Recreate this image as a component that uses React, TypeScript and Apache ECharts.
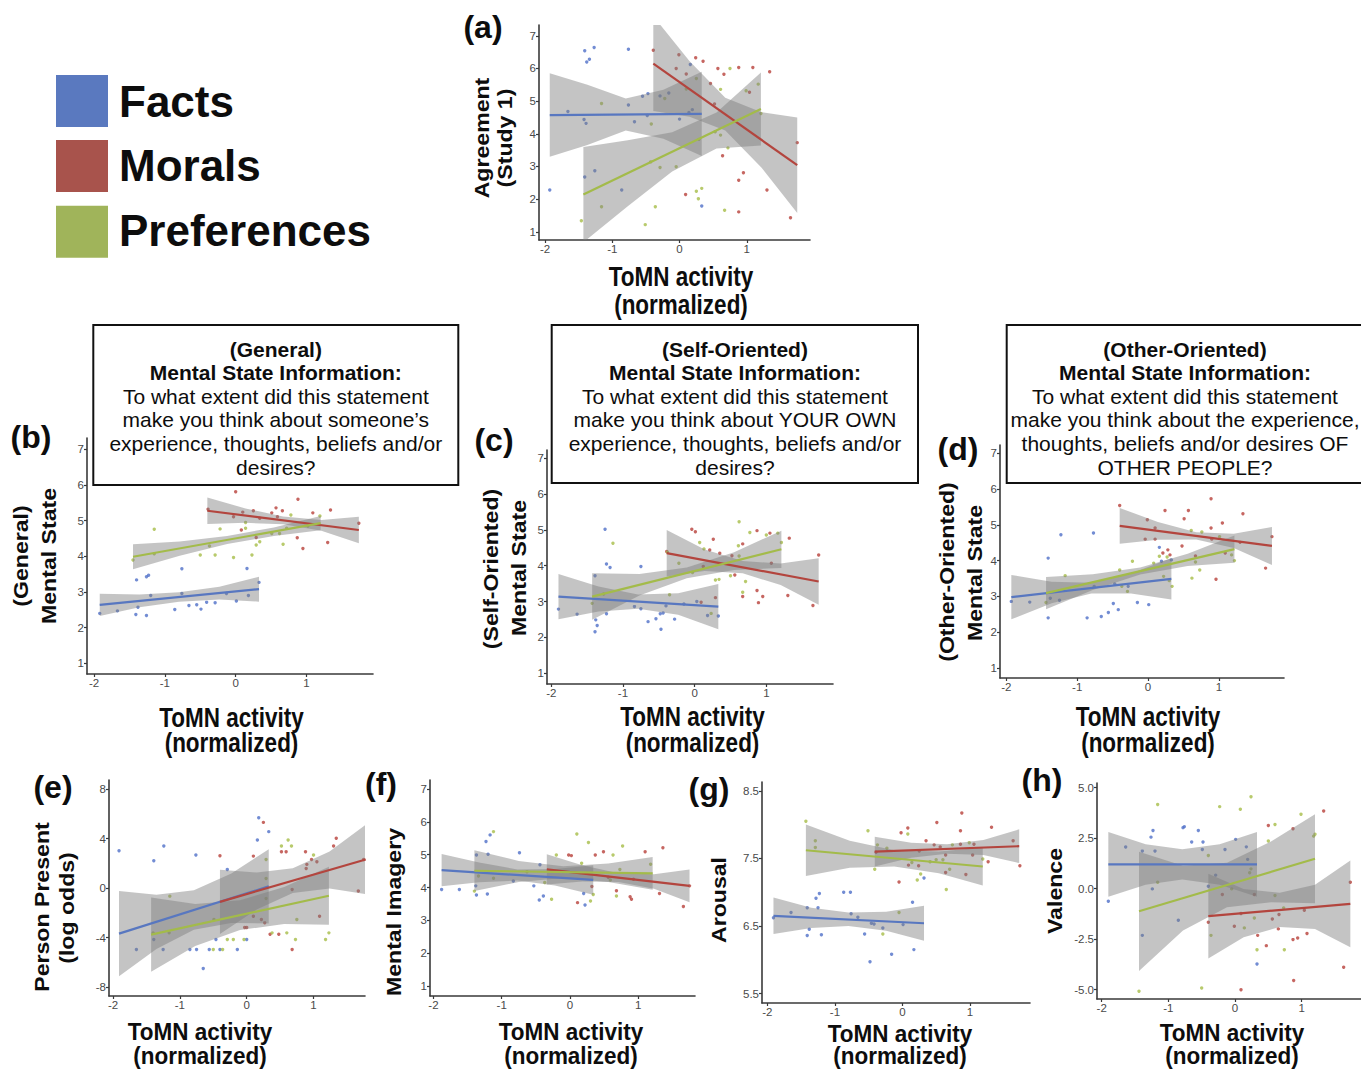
import React, { useEffect, useRef } from "react";
import * as echarts from "echarts";

// ---------- data: points [x, y] ----------
const aFacts = [[-1.41,6.54],[-1.27,6.64],[-1.38,6.2],[-1.34,6.28],[-0.76,6.59],[-1.66,4.68],[-1.42,4.44],[-1.39,4.32],[-0.76,4.88],[-0.55,5.15],[-0.47,5.23],[-0.29,5.16],[-0.16,5.25],[-0.67,4.37],[-0.48,4.56],[0.0,4.45],[0.16,6.12],[0.14,4.65],[0.19,4.74],[-1.41,2.68],[-1.26,2.87],[-1.93,2.28],[-0.86,2.28],[0.33,1.79]];
const aMorals = [[-0.39,6.56],[-0.01,6.42],[0.24,6.33],[0.35,6.22],[-0.05,6.0],[0.10,5.83],[0.57,6.0],[0.66,5.82],[0.88,6.03],[1.09,6.03],[1.34,5.9],[0.46,5.54],[1.04,5.27],[0.52,4.91],[0.64,3.33],[0.95,2.81],[0.88,2.58],[0.09,2.14],[0.88,1.61],[1.30,2.28],[1.65,1.43],[1.75,3.73]];
const aPrefs = [[-1.16,4.93],[-1.46,1.34],[-1.16,1.77],[-0.51,1.22],[-0.36,1.77],[-0.42,4.30],[-0.43,3.14],[-0.29,2.97],[-0.05,2.99],[-0.22,5.08],[0.10,5.37],[0.25,5.69],[0.29,3.83],[0.25,2.24],[0.33,2.33],[0.28,2.01],[0.61,5.36],[0.75,6.0],[0.61,3.96],[0.53,4.06],[0.72,3.57],[0.67,1.66],[0.99,5.32],[1.17,5.52],[1.21,4.62]];

const bFacts = [[-1.92,2.40],[-1.67,2.47],[-1.40,3.34],[-1.26,3.43],[-1.23,3.47],[-1.41,2.37],[-1.38,2.57],[-1.26,2.34],[-1.20,2.90],[-0.76,3.65],[-0.76,2.96],[-0.86,2.51],[-0.66,2.62],[-0.55,2.64],[-0.49,2.52],[-0.41,2.71],[-0.29,2.70],[-0.13,2.96],[0.01,2.75],[0.16,3.66],[0.18,2.90],[0.33,3.27]];
const bMorals = [[0.0,5.81],[0.88,5.6],[0.57,5.36],[-0.39,5.32],[-0.03,5.11],[0.10,5.24],[0.25,5.28],[0.51,5.22],[0.66,5.28],[1.09,5.22],[1.34,5.30],[1.74,4.93],[0.08,4.74],[0.29,4.53],[0.87,4.52],[0.95,4.22],[1.30,4.39],[0.34,5.07],[0.59,5.11]];
const bPrefs = [[-1.45,3.90],[-1.15,4.76],[-1.15,4.07],[-0.50,4.04],[-0.29,4.04],[-0.22,4.77],[-0.37,4.29],[-0.03,3.97],[0.23,4.04],[0.14,4.95],[0.29,4.32],[0.34,4.41],[0.51,4.64],[0.62,4.64],[0.67,4.34],[0.72,4.79],[0.78,5.16],[1.02,4.85],[1.19,5.13],[0.14,4.79]];

const cFacts = [[-1.90,2.79],[-1.64,2.65],[-1.39,3.72],[-1.38,2.49],[-1.36,2.33],[-1.39,2.16],[-1.25,5.02],[-1.23,4.05],[-1.18,3.95],[-1.23,2.66],[-0.75,3.98],[-0.84,2.86],[-0.75,2.80],[-0.65,2.44],[-0.54,2.52],[-0.48,2.66],[-0.47,2.23],[-0.44,2.68],[-0.40,2.88],[-0.28,2.51],[-0.15,2.93],[0.03,3.00],[0.18,2.61],[0.33,2.60]];
const cMorals = [[-0.04,5.02],[0.01,4.95],[0.26,4.74],[-0.39,4.40],[0.21,4.44],[0.35,4.35],[0.52,4.28],[0.56,3.74],[0.67,4.61],[0.87,4.98],[1.05,4.91],[1.32,4.77],[1.73,4.30],[1.07,4.07],[0.67,3.14],[0.87,3.31],[0.89,2.97],[0.95,3.14],[1.30,3.17],[1.65,2.89],[0.09,2.98],[0.29,3.11],[0.12,3.98]];
const cPrefs = [[-1.43,2.95],[-1.14,4.63],[-1.27,3.21],[-0.35,3.19],[-0.22,4.07],[-0.03,3.81],[0.07,4.65],[0.13,4.47],[0.23,2.67],[0.29,3.60],[0.34,3.62],[0.50,3.72],[0.61,4.56],[0.62,4.27],[0.67,3.26],[0.62,5.23],[0.77,4.93],[0.71,3.56],[1.0,4.86],[1.16,4.91],[1.21,4.65],[-0.38,4.38]];

const dFacts = [[-1.93,2.86],[-1.67,2.84],[-1.41,4.07],[-1.41,2.40],[-1.23,4.72],[-1.25,2.89],[-1.38,2.95],[-0.77,4.77],[-0.76,3.28],[-0.86,2.40],[-0.66,2.44],[-0.56,2.55],[-0.49,2.80],[-0.42,2.63],[-0.47,3.35],[-0.28,3.28],[-0.15,2.83],[0.01,2.77],[0.16,4.37],[0.19,3.98],[0.33,4.02]];
const dMorals = [[-0.40,5.54],[-0.01,5.14],[0.10,4.91],[0.24,5.40],[0.51,5.17],[0.57,5.40],[0.89,5.73],[0.89,4.91],[1.05,5.05],[1.34,5.31],[-0.04,4.60],[0.10,4.60],[0.28,4.30],[0.21,4.21],[0.31,4.16],[0.48,4.41],[0.67,4.13],[0.90,4.60],[1.09,4.21],[0.96,3.48],[1.66,3.79],[1.75,4.67],[1.30,4.51]];
const dPrefs = [[-1.44,2.83],[-1.17,3.58],[-0.37,3.28],[-0.29,3.14],[-0.22,3.98],[-0.40,3.74],[0.08,3.93],[0.16,4.12],[0.22,3.56],[0.27,4.10],[0.30,3.44],[0.34,3.28],[0.61,4.84],[0.62,3.51],[0.67,3.96],[0.73,3.74],[0.76,4.80],[1.01,4.67],[1.18,4.16],[1.22,4.00]];

const eFacts = [[-1.91,3.03],[-1.65,-4.97],[-1.39,2.22],[-1.39,-4.16],[-1.24,3.41],[-1.25,-4.97],[-0.76,2.68],[-0.75,-4.97],[-0.85,-4.97],[-0.65,-6.51],[-0.56,-4.97],[-0.46,-4.16],[-0.40,-4.97],[-0.29,1.51],[-0.14,-4.97],[0.0,-4.16],[0.18,5.70],[0.16,3.89],[0.33,4.57]];
const eMorals = [[0.25,5.32],[-0.40,2.62],[0.10,2.59],[0.52,2.95],[0.59,2.95],[0.88,2.95],[0.90,1.92],[0.97,2.32],[1.05,2.14],[0.89,1.59],[1.34,4.03],[1.30,3.41],[1.75,2.32],[1.67,-0.24],[0.68,-0.11],[0.10,-2.27],[-0.03,-3.19],[0.0,-3.19],[0.22,-2.54],[0.27,-2.81],[0.35,-3.73],[0.48,-3.73],[0.68,-4.97],[1.09,-2.27]];
const ePrefs = [[-1.15,-0.65],[-1.40,-3.62],[-1.16,-3.62],[-0.50,-4.97],[-0.36,-4.97],[-0.29,-4.16],[-0.20,-4.16],[-0.04,-4.16],[-0.49,-2.54],[0.29,2.32],[0.29,-0.84],[0.29,0.78],[0.38,-3.62],[0.52,3.41],[0.62,3.89],[0.67,3.41],[0.60,-3.62],[0.73,-4.16],[0.75,-2.54],[1.0,2.68],[1.18,-4.16],[1.23,-3.62]];

const fFacts = [[-1.88,3.94],[-1.62,3.94],[-1.37,4.99],[-1.38,4.05],[-1.37,3.77],[-1.23,5.40],[-1.17,5.60],[-1.21,3.80],[-1.20,5.01],[-0.83,4.20],[-0.74,5.06],[-0.53,4.05],[-0.45,3.62],[-0.39,3.74],[-0.44,4.69],[0.20,3.82],[0.22,3.47]];
const fMorals = [[-0.02,4.99],[0.02,4.97],[0.11,3.54],[0.37,4.99],[0.49,5.09],[0.68,3.90],[0.88,3.72],[0.90,3.64],[1.10,5.09],[1.36,5.21],[1.31,3.82],[1.66,3.42],[1.75,4.05],[0.56,4.31],[0.93,4.25],[0.32,4.03]];
const fPrefs = [[-1.40,3.89],[-1.12,5.70],[-1.12,4.28],[-1.34,4.35],[-0.63,4.48],[-0.20,4.99],[-0.27,3.64],[-0.37,4.15],[0.10,5.63],[0.17,4.74],[0.27,5.37],[0.30,3.59],[0.34,3.79],[0.63,4.99],[0.68,3.74],[0.73,4.55],[0.77,5.26],[0.59,4.23],[1.18,4.71]];

const gFacts = [[-1.91,6.62],[-1.65,6.70],[-1.41,6.77],[-1.41,6.36],[-1.38,6.45],[-1.28,6.91],[-1.23,6.98],[-1.25,6.77],[-1.20,6.37],[-0.87,7.0],[-0.77,7.0],[-0.76,6.68],[-0.66,6.63],[-0.56,6.38],[-0.48,5.97],[-0.46,6.54],[-0.42,6.53],[-0.29,6.47],[-0.16,6.08],[0.01,6.52],[0.15,6.85],[0.17,6.15],[0.32,7.21]];
const gMorals = [[-0.05,7.15],[-0.02,7.88],[0.08,7.95],[0.09,7.40],[0.24,7.39],[0.35,7.76],[0.51,8.03],[0.47,7.70],[0.56,7.67],[0.64,7.55],[0.64,7.29],[0.86,7.91],[0.88,8.17],[0.86,7.71],[0.94,7.26],[1.06,7.71],[1.04,7.55],[1.27,7.45],[1.32,7.96],[1.64,7.76],[1.74,7.39],[-0.39,7.59],[0.25,7.61]];
const gPrefs = [[-1.43,8.05],[-1.29,7.76],[-1.29,7.66],[-0.51,7.91],[-0.41,7.34],[-0.37,7.70],[-0.23,7.65],[0.08,7.86],[0.14,7.44],[0.22,7.18],[0.27,7.27],[0.41,7.45],[0.50,7.48],[0.60,7.48],[0.65,7.04],[0.70,7.34],[0.74,7.70],[0.99,7.73],[1.19,7.49],[-0.05,6.70],[-0.29,6.38]];

const hFacts = [[-1.90,-0.62],[-1.64,2.06],[-1.39,1.86],[-1.39,-2.31],[-1.26,2.55],[-1.23,2.88],[-1.24,-0.01],[-1.20,1.86],[-0.78,3.02],[-0.76,3.07],[-0.85,-1.56],[-0.65,2.31],[-0.55,2.88],[-0.49,1.94],[-0.48,2.31],[-0.40,0.12],[-0.29,0.67],[-0.15,1.94],[0.01,2.44],[0.17,2.07],[0.19,1.45],[0.33,-3.73]];
const hMorals = [[-0.19,-0.29],[-0.40,-1.66],[-0.01,-1.86],[0.09,-1.23],[0.09,-5.0],[0.29,-0.29],[0.34,-2.31],[0.47,-2.82],[0.50,3.13],[0.56,-1.50],[0.65,-1.99],[0.66,-1.28],[0.87,2.97],[0.87,-2.52],[0.88,-4.54],[0.94,-2.44],[1.04,-1.07],[1.08,-2.22],[1.33,3.84],[1.63,-3.89],[1.73,0.32]];
const hPrefs = [[-1.44,-5.08],[-1.16,4.17],[-1.16,0.32],[-0.50,-4.92],[-0.40,1.64],[-0.36,-2.31],[-0.23,4.06],[0.08,3.93],[-0.05,-0.01],[0.14,-1.94],[0.24,4.55],[0.22,0.79],[0.24,0.98],[0.29,-1.45],[0.33,-3.02],[0.50,2.36],[0.60,3.18],[0.60,-0.34],[0.74,-3.02],[0.73,-0.95],[0.99,3.68],[1.18,2.60],[1.20,2.69]];

// ---------- fitted lines (end points) ----------
const aFits = [[[-1.93,4.57],[0.33,4.61]], [[-0.39,6.15],[1.75,3.04]], [[-1.43,2.14],[1.21,4.76]]];
const bFits = [[[-1.92,2.64],[0.33,3.08]], [[-0.40,5.28],[1.74,4.74]], [[-1.45,3.99],[1.20,4.93]]];
const cFits = [[[-1.90,3.14],[0.33,2.86]], [[-0.39,4.35],[1.73,3.56]], [[-1.43,3.14],[1.21,4.46]]];
const dFits = [[[-1.93,2.98],[0.33,3.49]], [[-0.40,4.97],[1.75,4.41]], [[-1.44,3.09],[1.22,4.32]]];
const eFits = [[[-1.91,-3.68],[0.33,0.14]], [[-0.40,-1.11],[1.78,2.32]], [[-1.43,-3.76],[1.23,-0.62]]];
const fFits = [[[-1.88,4.53],[0.34,4.23]], [[-0.34,4.55],[1.75,4.05]], [[-1.40,4.51],[1.21,4.43]]];
const gFits = [[[-1.91,6.65],[0.32,6.54]], [[-0.41,7.60],[1.73,7.68]], [[-1.43,7.62],[1.19,7.38]]];
const hFits = [[[-1.90,1.20],[0.33,1.20]], [[-0.40,-1.36],[1.73,-0.75]], [[-1.44,-1.12],[1.20,1.48]]];

// ---------- confidence bands: [x, lower, upper] ----------
const aBands = [
  [[-1.93,3.3,5.85],[-1.37,3.66,5.5],[-0.8,4.1,5.08],[-0.24,3.85,5.35],[0.33,3.32,5.9]],
  [[-0.39,4.7,7.6],[0.15,4.52,6.22],[0.68,4.1,5.1],[1.22,2.96,4.66],[1.75,1.58,4.5]],
  [[-1.43,0.68,3.6],[-0.77,1.78,3.8],[-0.11,2.85,4.05],[0.55,3.55,4.65],[1.21,3.64,5.88]],
];
const bBands = [
  [[-1.92,2.33,2.95],[-1.36,2.57,2.93],[-0.8,2.73,2.99],[-0.23,2.79,3.15],[0.33,2.73,3.43]],
  [[-0.40,4.91,5.65],[0.14,4.94,5.34],[0.67,4.9,5.12],[1.21,4.72,5.02],[1.74,4.37,5.11]],
  [[-1.45,3.64,4.34],[-0.79,4.02,4.42],[-0.12,4.35,4.57],[0.54,4.57,4.81],[1.20,4.73,5.13]],
];
const cBands = [
  [[-1.9,2.51,3.77],[-1.34,2.72,3.42],[-0.79,2.8,3.2],[-0.23,2.63,3.23],[0.33,2.23,3.49]],
  [[-0.39,3.7,5.0],[0.14,3.85,4.45],[0.67,3.79,4.13],[1.2,3.46,4.06],[1.73,2.91,4.21]],
  [[-1.43,2.49,3.79],[-0.77,3.17,3.77],[-0.11,3.65,3.95],[0.55,3.88,4.38],[1.21,3.94,4.98]],
];
const dBands = [
  [[-1.93,2.36,3.6],[-1.36,2.81,3.41],[-0.8,3.08,3.38],[-0.24,3.08,3.64],[0.33,2.91,4.07]],
  [[-0.4,4.47,5.47],[0.14,4.58,5.08],[0.68,4.59,4.79],[1.21,4.35,4.75],[1.75,3.88,4.94]],
  [[-1.44,2.64,3.54],[-0.78,3.18,3.62],[-0.11,3.61,3.81],[0.56,3.85,4.19],[1.22,3.94,4.7]],
];
const eBands = [
  [[-1.91,-7.13,-0.23],[-1.35,-4.93,-0.53],[-0.79,-3.37,-0.17],[-0.23,-2.82,1.18],[0.33,-2.86,3.14]],
  [[-0.4,-3.71,1.49],[0.15,-1.74,1.26],[0.69,-0.4,1.6],[1.24,-0.04,2.96],[1.78,-0.48,5.12]],
  [[-1.43,-6.76,-0.76],[-0.77,-4.68,-1.28],[-0.1,-3.39,-0.99],[0.56,-2.91,0.09],[1.23,-2.97,1.73]],
];
const fBands = [
  [[-1.88,4.04,5.02],[-1.33,4.16,4.76],[-0.77,4.21,4.55],[-0.22,4.06,4.56],[0.34,3.78,4.68]],
  [[-0.34,4.09,5.01],[0.18,4.18,4.68],[0.71,4.17,4.43],[1.23,3.96,4.4],[1.75,3.55,4.55]],
  [[-1.4,3.89,5.13],[-0.75,4.17,4.81],[-0.1,4.29,4.65],[0.56,4.17,4.73],[1.21,3.93,4.93]],
];
const gBands = [
  [[-1.91,6.38,6.92],[-1.35,6.47,6.77],[-0.8,6.5,6.7],[-0.24,6.43,6.71],[0.32,6.28,6.8]],
  [[-0.41,7.38,7.82],[0.13,7.51,7.73],[0.66,7.57,7.71],[1.2,7.55,7.77],[1.73,7.43,7.93]],
  [[-1.43,7.24,8.0],[-0.78,7.36,7.76],[-0.12,7.38,7.62],[0.54,7.28,7.6],[1.19,7.1,7.66]],
];
const hBands = [
  [[-1.9,-0.4,2.8],[-1.34,0.2,2.2],[-0.79,0.45,1.95],[-0.23,0.2,2.2],[0.33,-0.4,2.8]],
  [[-0.4,-3.46,0.74],[0.13,-2.41,-0.01],[0.67,-1.9,-0.2],[1.2,-2.0,0.2],[1.73,-2.9,1.4]],
  [[-1.44,-4.07,1.83],[-0.78,-2.07,1.13],[-0.12,-0.92,1.28],[0.54,-0.67,2.33],[1.2,-0.72,3.68]],
];

// ---------- tick labels ----------
const xTicks = [-2, -1, 0, 1];
const likertTicks = [1, 2, 3, 4, 5, 6, 7];
const logOddsTicks = [-8, -4, 0, 4, 8];
const arousalTicks = [5.5, 6.5, 7.5, 8.5];
const valenceTicks = [-5, -2.5, 0, 2.5, 5];

const groupNames = ["Facts", "Morals", "Preferences"];
const boxB = ["(General)", "Mental State Information:", "To what extent did this statement", "make you think about someone’s", "experience, thoughts, beliefs and/or", "desires?"];
const boxC = ["(Self-Oriented)", "Mental State Information:", "To what extent did this statement", "make you think about YOUR OWN", "experience, thoughts, beliefs and/or", "desires?"];
const boxD = ["(Other-Oriented)", "Mental State Information:", "To what extent did this statement", "make you think about the experience,", "thoughts, beliefs and/or desires OF", "OTHER PEOPLE?"];

// ---------- styles ----------
const FONT = '"Liberation Sans", Arial, Helvetica, sans-serif';
const LEGEND_COLORS = ["#5a79bf", "#a8534c", "#a0b45a"];
const POINT_COLORS = ["#4f6fc8", "#b8403a", "#a6bd47"];
const LINE_COLORS = ["#5877c0", "#b3453e", "#a3bb4a"];
const BAND_FILL = "rgba(125,125,125,0.45)";
const AXIS_COLOR = "#3a3a3a";
const LABEL_COLOR = "#4a4a4a";

const panels = [
  { pts: [aFacts, aMorals, aPrefs], fits: aFits, bands: aBands, yTicks: likertTicks, box: { left: 539, top: 25, width: 271, height: 215 }, x: [-2.09, 1.94], y: [0.75, 7.33] },
  { pts: [bFacts, bMorals, bPrefs], fits: bFits, bands: bBands, yTicks: likertTicks, box: { left: 87, top: 438, width: 286, height: 236 }, x: [-2.1, 1.94], y: [0.7, 7.32] },
  { pts: [cFacts, cMorals, cPrefs], fits: cFits, bands: cBands, yTicks: likertTicks, box: { left: 547, top: 450, width: 286, height: 234 }, x: [-2.06, 1.93], y: [0.7, 7.23] },
  { pts: [dFacts, dMorals, dPrefs], fits: dFits, bands: dBands, yTicks: likertTicks, box: { left: 1000, top: 445, width: 284, height: 233 }, x: [-2.09, 1.92], y: [0.72, 7.23] },
  { pts: [eFacts, eMorals, ePrefs], fits: eFits, bands: eBands, yTicks: logOddsTicks, box: { left: 109, top: 780, width: 256, height: 216 }, x: [-2.06, 1.77], y: [-8.73, 8.75] },
  { pts: [fFacts, fMorals, fPrefs], fits: fFits, bands: fBands, yTicks: likertTicks, box: { left: 430, top: 780, width: 265, height: 216 }, x: [-2.05, 1.83], y: [0.7, 7.27] },
  { pts: [gFacts, gMorals, gPrefs], fits: gFits, bands: gBands, yTicks: arousalTicks, box: { left: 762, top: 782, width: 268, height: 221 }, x: [-2.08, 1.89], y: [5.36, 8.63] },
  { pts: [hFacts, hMorals, hPrefs], fits: hFits, bands: hBands, yTicks: valenceTicks, box: { left: 1097, top: 783, width: 264, height: 216 }, x: [-2.07, 1.89], y: [-5.46, 5.23], fixed: 1 },
];

function txt(x: number, y: number, s: string, size: number, bold: boolean, extra: any = {}, styleExtra: any = {}) {
  return {
    type: "text", x, y, z: 100, silent: true, ...extra,
    style: {
      text: s, fontSize: size, fontWeight: bold ? "bold" : "normal", fontFamily: FONT, fill: "#0d0d0d",
      align: "center", verticalAlign: "middle", textAlign: "center", textVerticalAlign: "middle", ...styleExtra,
    },
  };
}

function buildOption() {
  const grid: any[] = [];
  const xAxis: any[] = [];
  const yAxis: any[] = [];
  const series: any[] = [];

  panels.forEach((p, i) => {
    grid.push({ ...p.box, containLabel: false });
    xAxis.push({
      gridIndex: i, type: "value", min: p.x[0], max: p.x[1],
      axisLine: { show: true, onZero: false, lineStyle: { color: AXIS_COLOR, width: 1.6 } },
      axisTick: { show: true, length: 3, customValues: xTicks, lineStyle: { color: AXIS_COLOR, width: 1.2 } },
      axisLabel: { customValues: xTicks, color: LABEL_COLOR, fontSize: 11.5, margin: 3, fontFamily: FONT },
      splitLine: { show: false },
    });
    yAxis.push({
      gridIndex: i, type: "value", min: p.y[0], max: p.y[1],
      axisLine: { show: true, onZero: false, lineStyle: { color: AXIS_COLOR, width: 1.6 } },
      axisTick: { show: true, length: 3, customValues: p.yTicks, lineStyle: { color: AXIS_COLOR, width: 1.2 } },
      axisLabel: {
        customValues: p.yTicks, color: LABEL_COLOR, fontSize: 11.5, margin: 3, fontFamily: FONT,
        formatter: (v: number) => (p.fixed ? v.toFixed(1) : String(v)),
      },
      splitLine: { show: false },
    });
    p.pts.forEach((pts, g) => {
      series.push({
        type: "scatter", name: groupNames[g], xAxisIndex: i, yAxisIndex: i, data: pts,
        symbol: "circle", symbolSize: 3.4, itemStyle: { color: POINT_COLORS[g] }, z: 2, silent: true,
      });
    });
    p.bands.forEach((band) => {
      series.push({
        type: "custom", xAxisIndex: i, yAxisIndex: i, clip: true, z: 3, silent: true,
        data: [[band[0][0], band[0][1]]],
        renderItem: (_params: any, api: any) => {
          const upper = band.map((r) => api.coord([r[0], r[2]]));
          const lower = band.slice().reverse().map((r) => api.coord([r[0], r[1]]));
          return { type: "polygon", shape: { points: upper.concat(lower) }, style: { fill: BAND_FILL, stroke: "none" } };
        },
      });
    });
    p.fits.forEach((fit, g) => {
      series.push({
        type: "line", xAxisIndex: i, yAxisIndex: i, data: fit, showSymbol: false, symbol: "none",
        lineStyle: { color: LINE_COLORS[g], width: 2.2 }, z: 4, silent: true,
      });
    });
  });

  const graphics: any[] = [];
  // legend
  const legendY = [75, 140, 205.7];
  const legendTextY = [101, 165.5, 230];
  groupNames.forEach((name, g) => {
    graphics.push({ type: "rect", x: 56, y: legendY[g], z: 100, shape: { width: 52, height: 52 }, style: { fill: LEGEND_COLORS[g] } });
    graphics.push(txt(119, legendTextY[g], name, 44, true, {}, { align: "left", textAlign: "left" }));
  });
  // boxes
  const boxes = [
    { lines: boxB, x: 93.3, w: 365, cx: 275.8, h: 160 },
    { lines: boxC, x: 551.7, w: 366.3, cx: 735, h: 158 },
    { lines: boxD, x: 1006.7, w: 370, cx: 1185, h: 158 },
  ];
  const lineY = [349, 372.6, 396.2, 419.8, 443.4, 467];
  boxes.forEach((b) => {
    graphics.push({ type: "rect", x: b.x, y: 325, z: 99, shape: { width: b.w, height: b.h }, style: { fill: "#fff", stroke: "#111", lineWidth: 2 } });
    b.lines.forEach((l, k) => graphics.push(txt(b.cx, lineY[k], l, 21, k < 2)));
  });
  // panel letters
  const letters: [string, number, number][] = [
    ["(a)", 483, 27], ["(b)", 31, 437], ["(c)", 494, 440], ["(d)", 958, 449],
    ["(e)", 53, 787], ["(f)", 381, 784], ["(g)", 709, 789], ["(h)", 1042, 780],
  ];
  letters.forEach(([s, x, y]) => graphics.push(txt(x, y, s, 32, true)));
  // x titles
  const xTitles: [number, number, number, number][] = [
    [681, 276.5, 305, 1.2], [231.5, 718, 743, 1.2], [692.5, 716.7, 743, 1.2], [1148, 716.7, 743, 1.2],
    [200, 1032, 1055.5, 1.05], [571, 1031.5, 1055.5, 1.05], [900, 1034, 1056, 1.05], [1232, 1033, 1056, 1.05],
  ];
  xTitles.forEach(([x, y1, y2, sc]) => {
    graphics.push(txt(x, y1, "ToMN activity", 22.5, true, { scaleY: sc }));
    graphics.push(txt(x, y2, "(normalized)", 22.5, true, { scaleY: sc }));
  });
  // y titles
  const yTitles: [string, number, number][] = [
    ["Agreement", 482, 138], ["(Study 1)", 505, 138],
    ["(General)", 21, 556], ["Mental State", 48.5, 556],
    ["(Self-Oriented)", 491, 569], ["Mental State", 518.5, 568],
    ["(Other-Oriented)", 947, 572], ["Mental State", 975, 573],
    ["Person Present", 42, 907], ["(log odds)", 67, 908],
    ["Mental Imagery", 394, 912], ["Arousal", 718.5, 900], ["Valence", 1055, 891],
  ];
  yTitles.forEach(([s, x, y]) => graphics.push(txt(x, y, s, 21, true, { rotation: Math.PI / 2, scaleX: 1.1 })));

  return {
    animation: false,
    backgroundColor: "#ffffff",
    grid, xAxis, yAxis, series,
    graphic: { elements: graphics },
  };
}

export default function App() {
  const ref = useRef<HTMLDivElement>(null);
  useEffect(() => {
    document.body.style.margin = "0";
    document.body.style.overflow = "hidden";
    const chart = echarts.init(ref.current as HTMLDivElement, null, { renderer: "svg" });
    chart.setOption(buildOption() as any);
    return () => chart.dispose();
  }, []);
  return <div ref={ref} style={{ width: 1361, height: 1069 }} />;
}
